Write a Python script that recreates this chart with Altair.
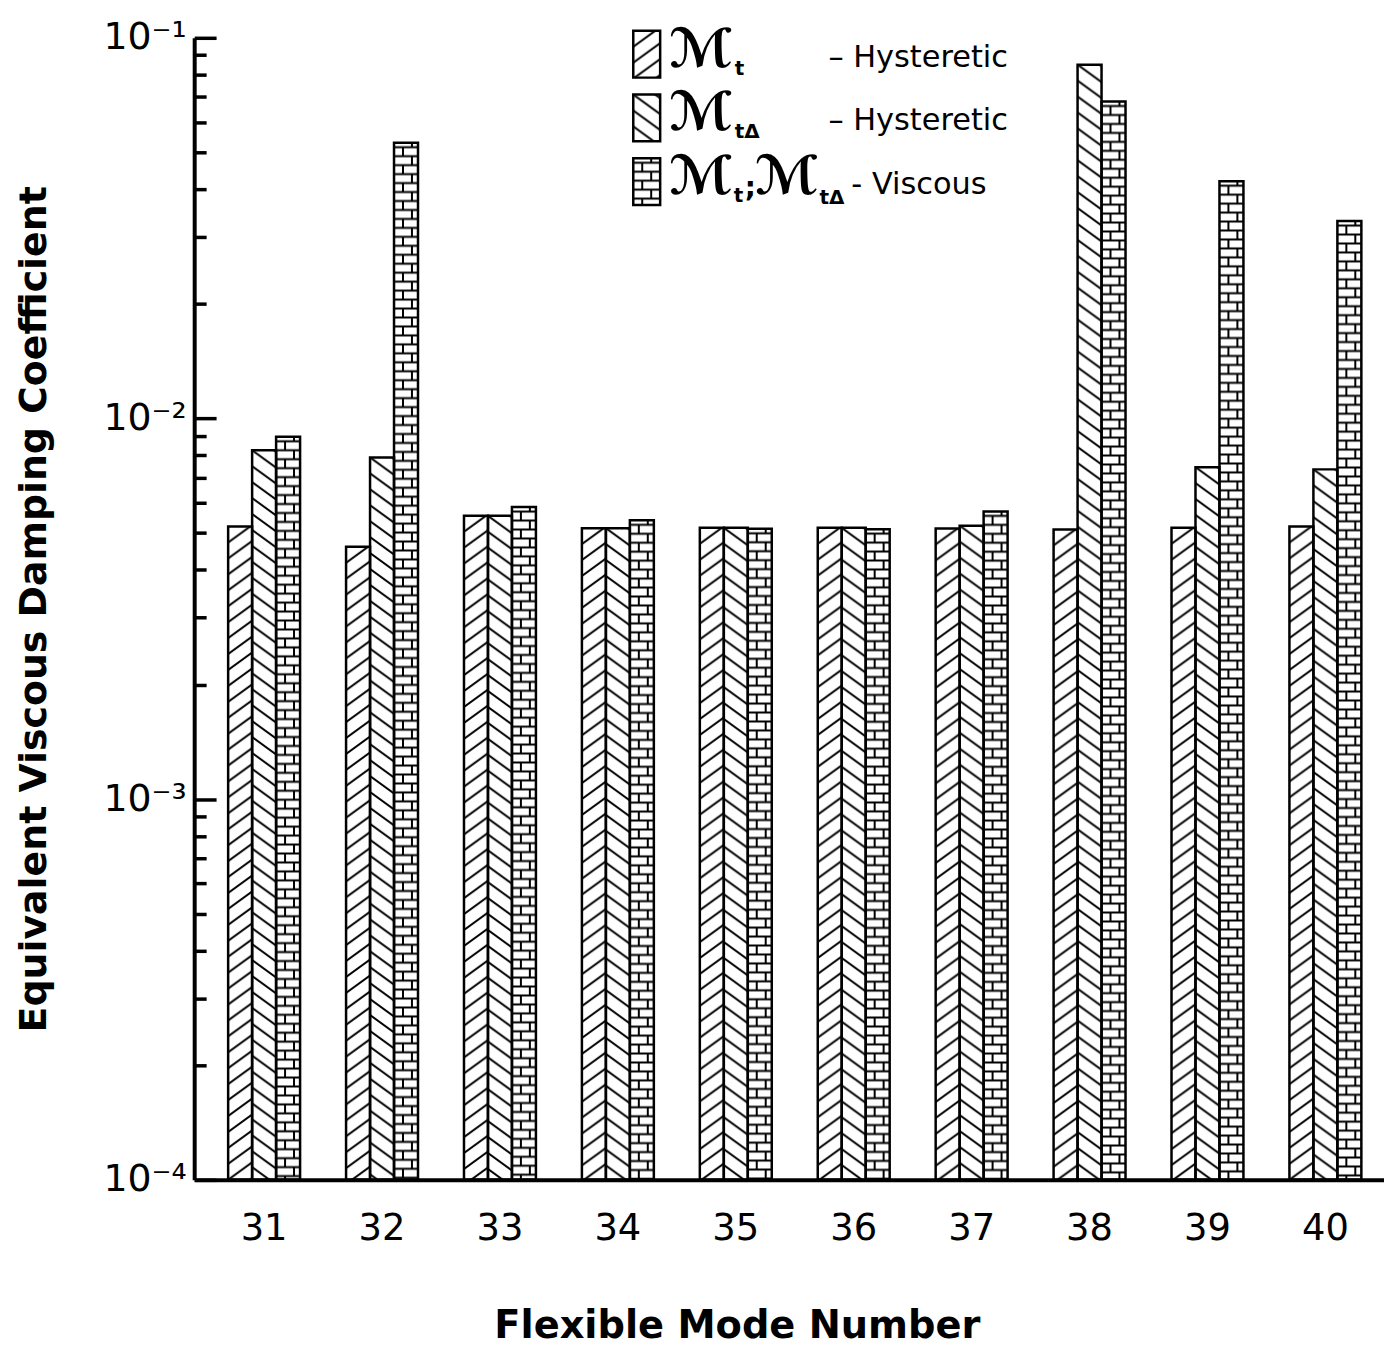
import base64
import altair as alt
import pandas as pd

# ---------------- data ----------------
modes = ["31", "32", "33", "34", "35", "36", "37", "38", "39", "40"]
series_names = ["Mt_hyst", "MtD_hyst", "visc"]
mt_hysteretic = [5.2e-3, 4.6e-3, 5.55e-3, 5.15e-3, 5.16e-3, 5.16e-3, 5.14e-3, 5.11e-3, 5.16e-3, 5.2e-3]
mtd_hysteretic = [8.25e-3, 7.9e-3, 5.55e-3, 5.15e-3, 5.16e-3, 5.16e-3, 5.23e-3, 8.5e-2, 7.45e-3, 7.35e-3]
viscous = [8.95e-3, 5.3e-2, 5.85e-3, 5.4e-3, 5.13e-3, 5.12e-3, 5.7e-3, 6.8e-2, 4.2e-2, 3.3e-2]

y_major = [1e-4, 1e-3, 1e-2, 1e-1]
y_major_labels = ["10\u207b\u2074", "10\u207b\u00b3", "10\u207b\u00b2", "10\u207b\u00b9"]
y_minor = [m * d for d in [1e-4, 1e-3, 1e-2] for m in range(2, 10)]

legend_sym = "\u2133"
legend_rows = ["\u2013 Hysteretic", "\u2013 Hysteretic", "- Viscous"]

rows = []
for i, m in enumerate(modes):
    rows.append({"mode": m, "series": series_names[0], "value": mt_hysteretic[i]})
    rows.append({"mode": m, "series": series_names[1], "value": mtd_hysteretic[i]})
    rows.append({"mode": m, "series": series_names[2], "value": viscous[i]})
df = pd.DataFrame(rows)

# ---------------- patterns ----------------
def svg_uri(w, h, body):
    svg = (
        '<svg xmlns="http://www.w3.org/2000/svg" width="100%" height="100%">'
        f'<defs><pattern id="p" patternUnits="userSpaceOnUse" width="{w}" height="{h}">'
        f'{body}</pattern></defs>'
        '<rect x="0" y="0" width="100%" height="100%" fill="url(#p)"/></svg>'
    )
    return "data:image/svg+xml;base64," + base64.b64encode(svg.encode()).decode()

HW, HH = 22, 16
fwd = "".join(
    f'<path d="M{k*HW-2*HW},{2*HH} L{k*HW+HW},{-HH}" stroke="black" stroke-width="2" fill="none"/>'
    for k in range(0, 3)
)
bwd = "".join(
    f'<path d="M{k*HW-HW},{-HH} L{k*HW+2*HW},{2*HH}" stroke="black" stroke-width="2" fill="none"/>'
    for k in range(-1, 2)
)
brick = (
    '<path d="M-1,4.5 H25 M-1,13.5 H25 M9,4.5 V13.5 M18,13.5 V18 M18,0 V4.5" '
    'stroke="black" stroke-width="2" fill="none"/>'
)
uri_fwd = svg_uri(HW, HH, fwd)
uri_bwd = svg_uri(HW, HH, bwd)
uri_brick = svg_uri(24, 18, brick)
uris = [uri_fwd, uri_bwd, uri_brick]

W, H = 1195, 1147
FONT = "DejaVu Sans"

label_expr = "".join(
    f"datum.value < {v*3} ? '{lab}' : " for v, lab in zip(y_major[:-1], y_major_labels[:-1])
) + f"'{y_major_labels[-1]}'"

x_enc = alt.X(
    "mode:N",
    sort=modes,
    scale=alt.Scale(paddingInner=0.39, paddingOuter=0.24, align=0.6),
    axis=alt.Axis(
        title="Flexible Mode Number",
        labelAngle=0,
        ticks=False,
        domainColor="black",
        domainWidth=4,
        labelFont=FONT,
        labelFontSize=37,
        labelPadding=31,
        labelColor="black",
        titleFont=FONT,
        titleFontSize=38.5,
        titleFontWeight="bold",
        titleColor="black",
        titleX=545,
        titleY=146,
        titleBaseline="middle",
    ),
)
xo_enc = alt.XOffset("series:N", sort=series_names, scale=alt.Scale(domain=series_names))
y_scale = alt.Scale(type="log", domain=[1e-4, 1e-1], nice=False)

url_expr = (
    f"datum.series == '{series_names[0]}' ? '{uris[0]}' : "
    f"datum.series == '{series_names[1]}' ? '{uris[1]}' : '{uris[2]}'"
)

bars_img = (
    alt.Chart(df)
    .transform_calculate(img=url_expr)
    .mark_image(aspect=False)
    .encode(
        x=x_enc,
        xOffset=xo_enc,
        y=alt.Y(
            "value:Q",
            scale=y_scale,
            axis=alt.Axis(
                title="Equivalent Viscous Damping Coefficient",
                values=y_major,
                labelExpr=label_expr,
                ticks=False,
                grid=False,
                domainColor="black",
                domainWidth=4,
                labelFont=FONT,
                labelFontSize=38,
                labelPadding=8,
                labelColor="black",
                labelBaseline="middle",
                titleFont=FONT,
                titleFontSize=38,
                titleFontWeight="bold",
                titleColor="black",
                titleX=-160,
                titleY=H / 2,
                titleBaseline="middle",
            ),
        ),
        y2=alt.datum(1e-4),
        url="img:N",
    )
)

bars_outline = (
    alt.Chart(df)
    .mark_bar(fillOpacity=0, stroke="black", strokeWidth=2.5)
    .encode(
        x=x_enc,
        xOffset=xo_enc,
        y=alt.Y(
            "value:Q",
            scale=y_scale,
            axis=alt.Axis(
                orient="right",
                offset=-W,
                values=y_major,
                labels=False,
                domain=False,
                grid=False,
                title=None,
                tickSize=22,
                tickWidth=3.5,
                tickColor="black",
            ),
        ),
        y2=alt.datum(1e-4),
    )
)

minor_ticks = (
    alt.Chart(df)
    .mark_bar(opacity=0)
    .encode(
        x=x_enc,
        xOffset=xo_enc,
        y=alt.Y(
            "value:Q",
            scale=y_scale,
            axis=alt.Axis(
                orient="right",
                offset=-W,
                values=y_minor,
                labels=False,
                domain=False,
                grid=False,
                title=None,
                tickSize=12,
                tickWidth=3.5,
                tickColor="black",
            ),
        ),
        y2=alt.datum(1e-4),
    )
)

# ---------------- legend ----------------
LX0, LX1 = 441, 468
ROW = 64
legend_layers = []
for i in range(3):
    top, bot = -7 + ROW * i, 40 + ROW * i
    one = pd.DataFrame({"t": [legend_rows[i]]})
    legend_layers.append(
        alt.Chart(one).mark_image(aspect=False).encode(
            x=alt.value(LX0), x2=alt.value(LX1), y=alt.value(top), y2=alt.value(bot),
            url=alt.value(uris[i]),
        )
    )
    legend_layers.append(
        alt.Chart(one).mark_rect(fillOpacity=0, stroke="black", strokeWidth=2.5).encode(
            x=alt.value(LX0), x2=alt.value(LX1), y=alt.value(top), y2=alt.value(bot)
        )
    )
    legend_layers.append(
        alt.Chart(one).mark_text(
            font=FONT, fontSize=30.5, align="left", baseline="middle", color="black"
        ).encode(
            x=alt.value(637 if i < 2 else 660), y=alt.value(20 + ROW * i), text="t:N"
        )
    )

def legend_text(txt, x, y, size, weight="normal", style="normal"):
    return alt.Chart(pd.DataFrame({"t": [txt]})).mark_text(
        font=FONT, fontSize=size, fontWeight=weight, fontStyle=style,
        align="left", baseline="middle", color="black",
    ).encode(x=alt.value(x), y=alt.value(y), text="t:N")

SYM = 54
sym_parts = [
    (legend_sym, 477, 13, SYM, "bold", "italic"),
    ("t", 543, 31, 20, "bold", "normal"),
    (legend_sym, 477, 13 + ROW, SYM, "bold", "italic"),
    ("t\u0394", 543, 31 + ROW, 20, "bold", "normal"),
    (legend_sym, 477, 13 + 2 * ROW, SYM, "bold", "italic"),
    ("t", 542, 31 + 2 * ROW, 20, "bold", "normal"),
    (";", 553, 24 + 2 * ROW, 28, "bold", "normal"),
    (legend_sym, 563, 13 + 2 * ROW, SYM, "bold", "italic"),
    ("t\u0394", 628, 33 + 2 * ROW, 20, "bold", "normal"),
]
for p in sym_parts:
    legend_layers.append(legend_text(*p))

chart = (
    alt.layer(bars_img, bars_outline, minor_ticks, *legend_layers)
    .resolve_scale(y="shared")
    .resolve_axis(y="independent")
    .properties(
        width=W,
        height=H,
        autosize=alt.AutoSizeParams(type="none"),
        padding={"left": 187, "top": 27, "right": 0, "bottom": 170},
        background="white",
    )
    .configure_view(stroke=None)
)

chart.save("out.html", embed_options={"renderer": "svg", "actions": False})
